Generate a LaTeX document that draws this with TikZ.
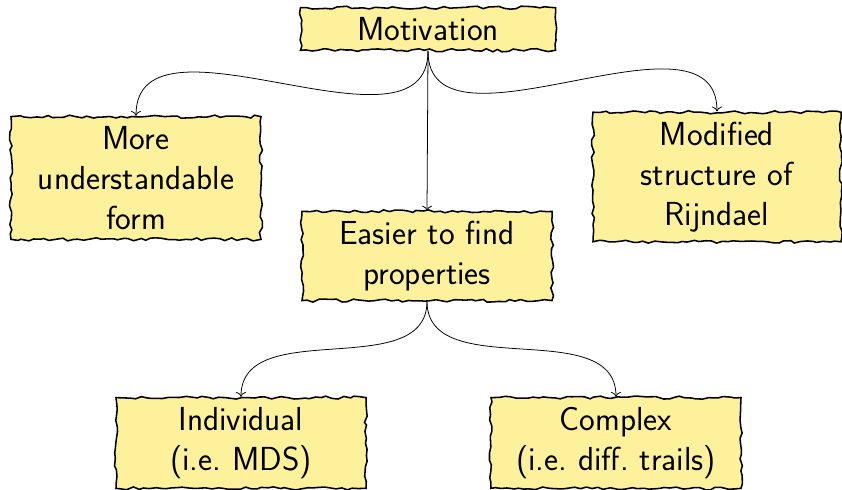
\documentclass[tikz,border=0pt]{standalone}
\usetikzlibrary{decorations.pathmorphing,arrows.meta}
\definecolor{notefill}{RGB}{253,241,155}
\tikzset{
  notebox/.style={
    draw=black, line width=1.1pt, fill=notefill,
    decorate, decoration={random steps, segment length=4pt, amplitude=1.1pt},
    text width=5.6cm, align=center, minimum width=6.25cm,
    inner xsep=0.3cm, inner ysep=0.24cm,
    font=\sffamily\fontsize{23.7}{28.5}\selectfont
  },
  link/.style={-{To[length=3.5pt,width=7pt]}, line width=0.55pt}
}
\begin{document}
\pgfmathsetseed{7}
\begin{tikzpicture}
\useasboundingbox (0,0) rectangle (21.05,12.25);
\node[notebox, minimum width=6.375cm] (mot) at (10.7,11.525) {Motivation};
\node[notebox] (more) at (3.4,7.8) {More\\understandable\\form};
\node[notebox, minimum width=6.2cm] (mod) at (17.925,7.825) {Modified\\structure of\\Rijndael};
\node[notebox] (easy) at (10.675,5.85) {Easier to find\\properties};
\node[notebox] (ind) at (6.025,1.175) {Individual\\(i.e.\ MDS)};
\node[notebox] (cpx) at (15.4,1.175) {Complex\\(i.e.\ diff.\ trails)};
\draw[link] (mot.south) to[out=-90,in=90] (more.north);
\draw[link] (mot.south) to[out=-90,in=90] (mod.north);
\draw[link] (mot.south) -- (easy.north);
\draw[link] (easy.south) to[out=-90,in=90] (ind.north);
\draw[link] (easy.south) to[out=-90,in=90] (cpx.north);
\end{tikzpicture}
\end{document}
